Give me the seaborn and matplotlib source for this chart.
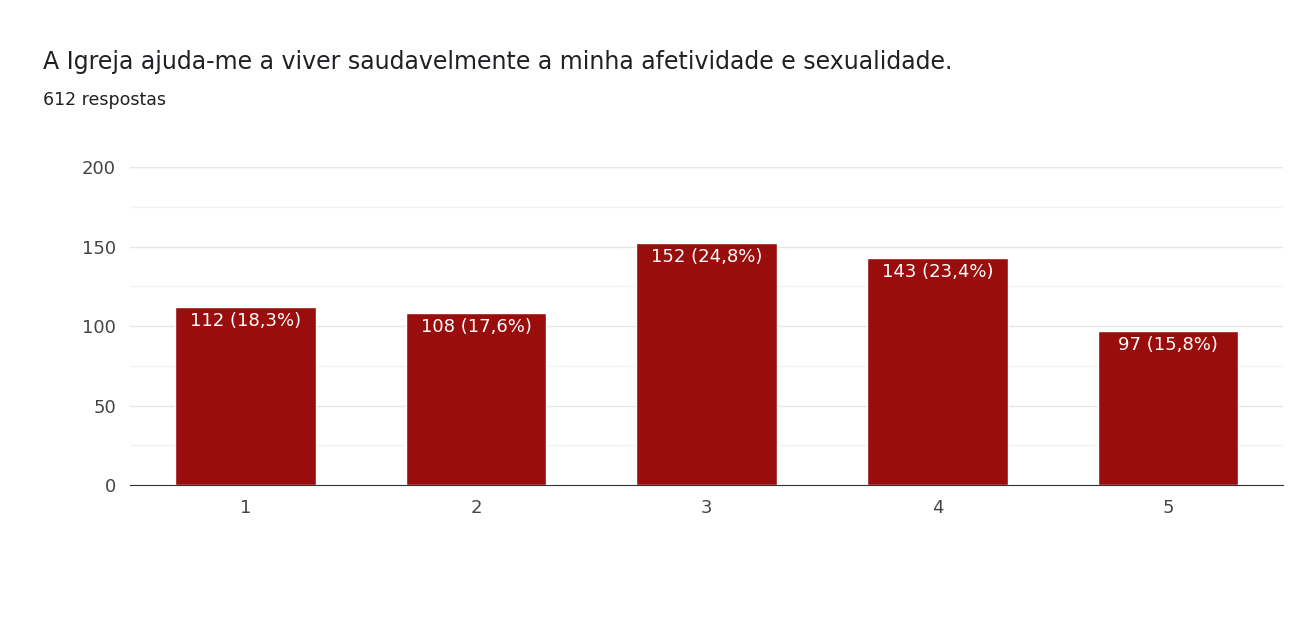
import matplotlib
matplotlib.use("Agg")
import pandas as pd
import seaborn as sns
import matplotlib.pyplot as plt

categorias = ["1", "2", "3", "4", "5"]
respostas = [112, 108, 152, 143, 97]
rotulos = ["112 (18,3%)", "108 (17,6%)", "152 (24,8%)", "143 (23,4%)", "97 (15,8%)"]

df = pd.DataFrame({"cat": categorias, "n": respostas})

plt.rcParams["font.family"] = "Roboto"
sns.set_style("white")
fig = plt.figure(figsize=(12.99, 6.17), dpi=100)
ax = fig.add_axes([0.100, 0.214, 0.888, 0.515])

sns.barplot(data=df, x="cat", y="n", color="#9a0d0d", saturation=1, width=0.61, ax=ax)

for i, (v, t) in enumerate(zip(respostas, rotulos)):
    ax.text(i, v - 3, t, ha="center", va="top", color="white", fontsize=13)

ax.set_ylim(0, 200)
ax.set_xlim(-0.5, 4.5)
ax.set_yticks([0, 50, 100, 150, 200])
ax.set_yticks([25, 75, 125, 175], minor=True)
ax.grid(axis="y", which="major", color="#e6e6e6", linewidth=1)
ax.grid(axis="y", which="minor", color="#f3f3f3", linewidth=1)
ax.set_axisbelow(True)
for s in ["top", "right", "left"]:
    ax.spines[s].set_visible(False)
ax.spines["bottom"].set_color("#333333")
ax.tick_params(axis="both", length=0, labelsize=13, colors="#444444", pad=10)
ax.tick_params(axis="y", which="minor", length=0)
ax.set_xlabel("")
ax.set_ylabel("")
ax.axhline(200, color="#e6e6e6", linewidth=1)

fig.text(43 / 1299, 1 - 62 / 617, "A Igreja ajuda-me a viver saudavelmente a minha afetividade e sexualidade.",
         fontsize=17, color="#202124", va="center")
fig.text(43 / 1299, 1 - 100 / 617, "612 respostas", fontsize=12.5, color="#202124", va="center")

fig.savefig("out.png", dpi=100)
